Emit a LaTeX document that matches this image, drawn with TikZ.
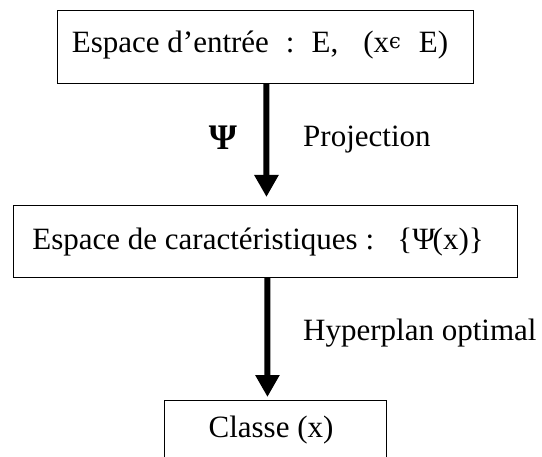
\documentclass[tikz,border=0pt]{standalone}
\usepackage{fontspec}
\setmainfont{Liberation Serif}
\newfontfamily\symfont{DejaVu Serif}
\usetikzlibrary{arrows.meta}
\begin{document}
\begin{tikzpicture}[x=1bp,y=-1bp,
  box/.style={draw, line width=0.9bp, inner sep=0pt, anchor=north west},
  lbl/.style={font=\fontsize{31bp}{36bp}\selectfont, inner sep=0pt, anchor=base},
  flow/.style={line width=6bp, -{Triangle[length=22bp,width=23bp]}}]
\useasboundingbox (0,0) rectangle (542,457);
\node[box, minimum width=416bp, minimum height=73bp] (b1) at (57,10) {};
\node[box, minimum width=504bp, minimum height=72bp] (b2) at (13,205) {};
\node[box, minimum width=222bp, minimum height=80bp] (b3) at (164,400) {};
\node[lbl] (t1) at (260,53) {Espace d’entrée\hspace{17bp}:\hspace{17bp}E,\hspace{25bp}(x\raisebox{0.35ex}{\fontsize{21bp}{22bp}\symfont ϵ}\hspace{18bp}E)};
\node[lbl] (t2) at (258,250) {Espace de caractéristiques :\ \ \ \{Ψ\kern-0.08em(x)\}};
\node[lbl] (t3) at (271,437) {Classe (x)};
\node[lbl, font=\fontsize{36bp}{40bp}\selectfont\bfseries] (psi) at (223,150) {Ψ};
\node[lbl, anchor=base west] (proj) at (303,147) {Projection};
\node[lbl, anchor=base west] (hyp) at (303,340) {Hyperplan optimal};
\draw[flow, shorten >=8bp] ([xshift=1bp]b1.south) -- ([xshift=1bp]b2.north);
\draw[flow, shorten >=3bp] ([xshift=2bp]b2.south) -- ([xshift=-8bp]b3.north);
\end{tikzpicture}
\end{document}
